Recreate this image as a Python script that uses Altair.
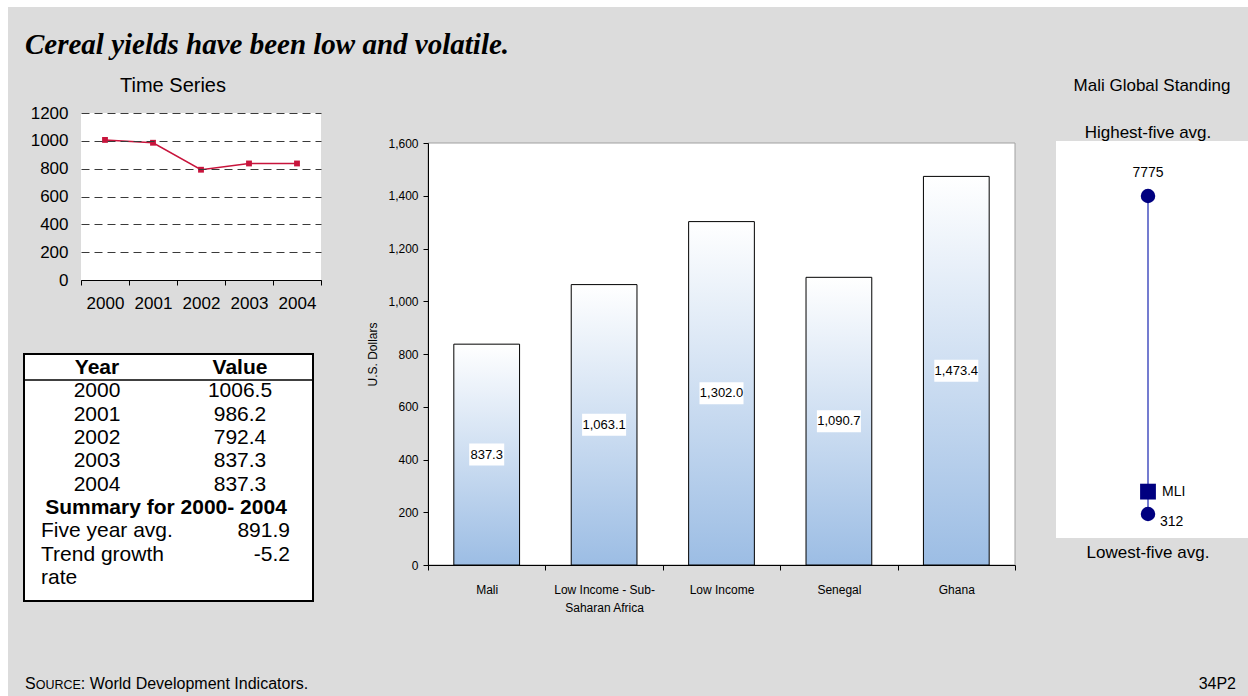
import json

import altair as alt
import pandas as pd

# ---------------- data ----------------
# Cereal yield for Mali, 2000-2004
years = ["2000", "2001", "2002", "2003", "2004"]
yield_values = [1006.5, 986.2, 792.4, 837.3, 837.3]
summary_title = "Summary for 2000- 2004"
stat_names = ["Five year avg.", "Trend growth rate"]
stat_values = [891.9, -5.2]
ts_ticks = [0, 200, 400, 600, 800, 1000, 1200]

# Comparison with peer groups
regions = ["Mali", "Low Income - Sub-Saharan Africa", "Low Income", "Senegal", "Ghana"]
region_values = [837.3, 1063.1, 1302.0, 1090.7, 1473.4]
bar_ticks = [0, 200, 400, 600, 800, 1000, 1200, 1400, 1600]

# Global standing
standing_names = ["Highest-five avg.", "Lowest-five avg."]
standing_values = [7775, 312]
country_code = "MLI"
country_value = 837.3

# ---------------- styling ----------------
W, H = 1248, 696
SANS = "Liberation Sans, Arial, sans-serif"
NARROW = "Liberation Sans Narrow, Arial Narrow, Liberation Sans, sans-serif"
SERIF = "Liberation Serif, Times New Roman, serif"
PANEL_GREY = "#dcdcdc"
RED = "#c8143c"
NAVY = "#000080"

# line breaks used for long category names and table cells
wrapped = {
    "Low Income - Sub-Saharan Africa": ["Low Income - Sub-", "Saharan Africa"],
    "Trend growth rate": ["Trend growth", "rate"],
}

one = pd.DataFrame({"k": [0]})


def panel(x0, x1, y0, y1, fill, stroke=None, width=1.0):
    props = {"fill": fill, "strokeWidth": width if stroke else 0}
    if stroke:
        props["stroke"] = stroke
    return alt.Chart(one).mark_rect(**props).encode(
        x=alt.value(x0), x2=alt.value(x1), y=alt.value(y0), y2=alt.value(y1)
    )


def note(text, x, y, size, align="left", font=SANS, baseline="middle", **kw):
    return alt.Chart(one).mark_text(
        text=text, align=align, baseline=baseline, font=font, fontSize=size,
        color="black", **kw
    ).encode(x=alt.value(x), y=alt.value(y))


# ---------------- background & headings ----------------
background = panel(8, W, 7, H, PANEL_GREY)
headline = note("Cereal yields have been low and volatile.", 25, 45, 29,
                font=SERIF, fontWeight="bold", fontStyle="italic")

# ---------------- time series ----------------
ts_df = pd.DataFrame({"year": years, "value": yield_values})
ts_x = alt.X(
    "year:O", title=None, bandPosition=0.5,
    scale=alt.Scale(type="band", domain=years, range=[81, 321],
                    paddingInner=0, paddingOuter=0),
    axis=alt.Axis(orient="bottom", offset=280 - H, tickBand="extent", labelAngle=0,
                  labelFont=SANS, labelFontSize=17, labelColor="black", labelPadding=10,
                  domainColor="black", tickColor="black", tickSize=5, grid=False, zindex=1),
)
ts_y = alt.Y(
    "value:Q", title=None,
    scale=alt.Scale(domain=[0, 1200], range=[280, 113], nice=False),
    axis=alt.Axis(orient="left", offset=-81, values=ts_ticks, format="d",
                  domain=False, ticks=False, labelFont=SANS, labelFontSize=17,
                  labelColor="black", labelPadding=13, grid=True, gridColor="#3a3a3a",
                  gridDash=[8, 5], gridWidth=1, zindex=1),
)
ts_base = alt.Chart(ts_df).encode(x=ts_x, y=ts_y)
time_series = alt.layer(
    ts_base.mark_line(color=RED, strokeWidth=1.5),
    ts_base.mark_point(shape="square", filled=True, size=34, color=RED, opacity=1),
)
ts_panel = panel(81, 321, 113, 280, "white")
ts_title = note("Time Series", 173, 86, 20, align="center")

# ---------------- summary table ----------------
left_col, right_col, kinds = ["Year"], ["Value"], ["head"]
for yr, v in zip(years, yield_values):
    left_col.append(yr)
    right_col.append(f"{v:.1f}")
    kinds.append("year")
left_col.append(summary_title)
right_col.append("")
kinds.append("summary")
for name, v in zip(stat_names, stat_values):
    lines = wrapped.get(name, [name])
    for i, line in enumerate(lines):
        left_col.append(line)
        right_col.append(f"{v:.1f}" if i == 0 else "")
        kinds.append("stat")
table_df = pd.DataFrame({"row": list(range(len(left_col))), "left": left_col,
                         "right": right_col, "kind": kinds})

row_y = alt.Y("row:O", axis=None,
              scale=alt.Scale(type="point", domain=list(range(len(left_col))),
                              range=[368, 578], padding=0))
tbl = alt.Chart(table_df)


def table_text(kind, field, x, align="center", weight="normal"):
    return tbl.transform_filter(alt.datum.kind == kind).mark_text(
        align=align, baseline="middle", font=SANS, fontSize=21,
        fontWeight=weight, color="black"
    ).encode(x=alt.value(x), y=row_y, text=f"{field}:N")


table = alt.layer(
    table_text("head", "left", 97, weight="bold"),
    table_text("head", "right", 240, weight="bold"),
    table_text("year", "left", 97),
    table_text("year", "right", 240),
    table_text("summary", "left", 166, weight="bold"),
    table_text("stat", "left", 41, align="left"),
    table_text("stat", "right", 290, align="right"),
)
table_box = panel(24, 313, 354, 601, "white", stroke="black", width=2)
table_rule = alt.Chart(one).mark_rule(color="black", strokeWidth=1.5).encode(
    x=alt.value(24), x2=alt.value(313), y=alt.value(380)
)

# ---------------- bar chart ----------------
bar_df = pd.DataFrame({"region": regions, "value": region_values})
bar_df["label"] = [f"{v:,.1f}" for v in region_values]


def box_path(text):
    half = sum(3.0 if ch in ",." else 6.0 for ch in text) / 2 + 4
    return f"M{-half:.1f},-11L{half:.1f},-11L{half:.1f},11L{-half:.1f},11Z"


bar_df["box"] = [box_path(s) for s in bar_df["label"]]

label_expr = "datum.label"
for name, lines in wrapped.items():
    if name in regions:
        label_expr = f"datum.label === {json.dumps(name)} ? {json.dumps(lines)} : {label_expr}"

bar_x_scale = alt.Scale(type="band", domain=regions, range=[428, 1015],
                        paddingInner=0, paddingOuter=0)
bar_y_scale = alt.Scale(domain=[0, 1600], range=[565, 143], nice=False)

bar_x = alt.X(
    "region:N", title=None, sort=regions, scale=bar_x_scale,
    axis=alt.Axis(orient="bottom", offset=565 - H, tickBand="extent", labelAngle=0,
                  labelExpr=label_expr, labelFont=SANS, labelFontSize=12,
                  labelColor="black", labelPadding=14, labelLineHeight=18,
                  domainColor="black", tickColor="black", tickSize=5, grid=False, zindex=1),
)
bar_y = alt.Y(
    "value:Q", title="U.S. Dollars", scale=bar_y_scale,
    axis=alt.Axis(orient="left", offset=-428, values=bar_ticks, format=",d",
                  labelFont=SANS, labelFontSize=12, labelColor="black", labelPadding=5,
                  tickSize=5, tickColor="black", domainColor="black",
                  titleFont=SANS, titleFontSize=12, titleFontWeight="normal",
                  titleColor="black", titlePadding=8, grid=False, zindex=1),
)
bar_fill = alt.Gradient(
    gradient="linear",
    stops=[alt.GradientStop(color="#ffffff", offset=0),
           alt.GradientStop(color="#9cbde4", offset=1)],
    x1=0, x2=0, y1=0, y2=1,
)
bars = alt.Chart(bar_df).mark_bar(
    fill=bar_fill, stroke="black", strokeWidth=1, width=alt.RelativeBandSize(0.56)
).encode(x=bar_x, y=bar_y)

# value labels sit half way up each bar, on a white box
label_base = alt.Chart(bar_df).transform_calculate(mid="datum.value / 2").encode(
    x=alt.X("region:N", sort=regions, bandPosition=0.5, scale=bar_x_scale, axis=None),
    y=alt.Y("mid:Q", scale=bar_y_scale, axis=None),
)
label_boxes = label_base.mark_point(
    filled=True, color="white", size=4, opacity=1, strokeWidth=0
).encode(shape=alt.Shape("box:N", scale=None))
label_text = label_base.mark_text(font=NARROW, fontSize=13, color="black").encode(
    text="label:N"
)
bar_frame = panel(428, 1015, 143, 565, "white", stroke="#a0a0a0")

# ---------------- global standing ----------------
st_df = pd.DataFrame({"name": standing_names, "value": standing_values})
mli_df = pd.DataFrame({"code": [country_code], "value": [country_value]})
st_x = alt.X("slot:N", axis=None,
             scale=alt.Scale(type="point", domain=["standing"], range=[1048, 1248],
                             padding=0.5))
st_y_scale = alt.Scale(range=[514, 196], nice=False, zero=False)
st_y = alt.Y("value:Q", scale=st_y_scale, axis=None)

st_base = alt.Chart(st_df).transform_calculate(slot="'standing'")
mli_base = alt.Chart(mli_df).transform_calculate(slot="'standing'")
standing = alt.layer(
    st_base.mark_rule(color="#4650c0", strokeWidth=1.5).encode(
        x=st_x, y=alt.Y("max(value):Q", scale=st_y_scale, axis=None),
        y2=alt.Y2("min(value):Q")),
    st_base.mark_circle(size=210, color=NAVY, opacity=1).encode(x=st_x, y=st_y),
    mli_base.mark_square(size=250, color=NAVY, opacity=1).encode(x=st_x, y=st_y),
    st_base.transform_filter(alt.datum.name == standing_names[0]).mark_text(
        font=SANS, fontSize=14, color="black", dy=-23
    ).encode(x=st_x, y=st_y, text=alt.Text("value:Q", format="d")),
    st_base.transform_filter(alt.datum.name == standing_names[1]).mark_text(
        font=SANS, fontSize=14, color="black", align="left", dx=12, dy=8
    ).encode(x=st_x, y=st_y, text=alt.Text("value:Q", format="d")),
    mli_base.mark_text(font=SANS, fontSize=14, color="black", align="left", dx=14).encode(
        x=st_x, y=st_y, text="code:N"),
)
st_panel = panel(1056, W, 141, 538, "white")
st_title = note("Mali Global Standing", 1152, 86, 17, align="center")
st_high = note(standing_names[0], 1148, 133, 17, align="center")
st_low = note(standing_names[1], 1148, 553, 17, align="center")

# ---------------- footer ----------------
foot_s = note("S", 25, 689, 16, baseline="alphabetic")
foot_ource = note("OURCE", 35.7, 689, 12.5, baseline="alphabetic")
foot_rest = note(": World Development Indicators.", 80.8, 689, 16, baseline="alphabetic")
foot_code = note("34P2", 1236, 689, 16, align="right", baseline="alphabetic")

chart = alt.layer(
    background, headline,
    ts_panel, ts_title, time_series,
    table_box, table_rule, table,
    bar_frame, bars, label_boxes, label_text,
    st_panel, st_title, st_high, st_low, standing,
    foot_s, foot_ource, foot_rest, foot_code,
).resolve_scale(
    x="independent", y="independent", shape="independent"
).resolve_axis(
    x="independent", y="independent"
).properties(
    width=W, height=H, padding=0, background="white",
    autosize=alt.AutoSizeParams(type="none"),
).configure_view(strokeWidth=0)

chart.save("out.html", embed_options={"renderer": "svg", "actions": False})
